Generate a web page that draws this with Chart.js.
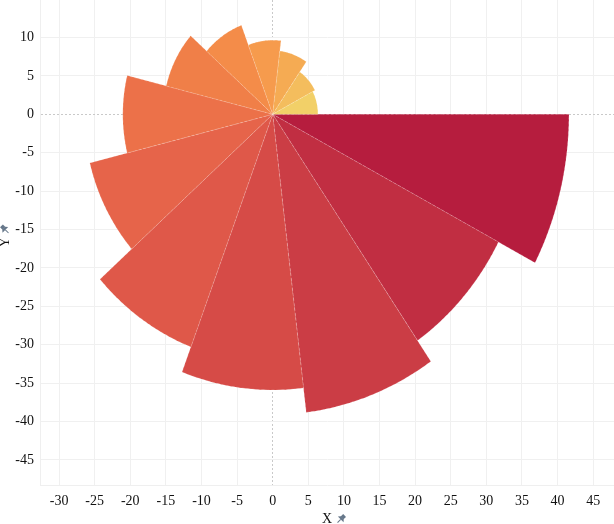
<!DOCTYPE html>
<html>
<head>
<meta charset="utf-8">
<script src="https://cdn.jsdelivr.net/npm/chart.js@4.4.0/dist/chart.umd.min.js"></script>
<style>
html,body{margin:0;padding:0;background:#fff;}
#wrap{width:614px;height:524px;}
</style>
</head>
<body>
<div id="wrap"><canvas id="c" width="614" height="524"></canvas></div>
<script>
// ---- data ----
const categories = ['1','2','3','4','5','6','7','8','9','10','11','12','13'];
const radii = [6.35, 6.7, 8.3, 9.65, 12.4, 15.4, 21.05, 26.45, 32.4, 35.9, 39.1, 35.8, 41.6];
const colors = ['#F2D068','#F4BD5D','#F5AB53','#F69B4D','#F48C49','#F07F48','#EC7149','#E6644A','#DF5849','#D64B47','#CB3D45','#C12E42','#B61D3E'];
const xTicks = [-30,-25,-20,-15,-10,-5,0,5,10,15,20,25,30,35,40,45];
const yTicks = [-45,-40,-35,-30,-25,-20,-15,-10,-5,0,5,10];
const xRange = [-32.68, 47.93];
const yRange = [-48.27, 14.88];
const xTitle = 'X';
const yTitle = 'Y';

// build wedge polygons (angular sectors) from the radii
const step = 360 / categories.length;
const ARC_STEPS = 48;
const datasets = categories.map((cat, i) => {
  const a0 = i * step, a1 = (i + 1) * step;
  const pts = [{x: 0, y: 0}];
  for (let k = 0; k <= ARC_STEPS; k++) {
    const a = (a0 + (a1 - a0) * k / ARC_STEPS) * Math.PI / 180;
    pts.push({x: radii[i] * Math.cos(a), y: radii[i] * Math.sin(a)});
  }
  pts.push({x: 0, y: 0});
  return {
    label: cat,
    data: pts,
    showLine: true,
    fill: 'shape',
    backgroundColor: colors[i],
    borderColor: 'rgba(255,255,255,0.35)',
    borderWidth: 0.6,
    borderDash: [3, 2],
    pointRadius: 0,
    pointHoverRadius: 0,
    tension: 0
  };
});

const FONT = '"Liberation Serif", "Times New Roman", serif';

function drawPin(ctx, x, y, rot) {
  ctx.save();
  ctx.translate(x, y);
  ctx.rotate(rot);
  ctx.fillStyle = '#66778a';
  ctx.strokeStyle = '#66778a';
  ctx.beginPath();
  ctx.rect(-2, -5, 4, 3.5);
  ctx.fill();
  ctx.beginPath();
  ctx.moveTo(-4, 0.5); ctx.lineTo(4, 0.5); ctx.lineTo(2, -1.8); ctx.lineTo(-2, -1.8); ctx.closePath();
  ctx.fill();
  ctx.lineWidth = 1;
  ctx.beginPath();
  ctx.moveTo(0, 0.5); ctx.lineTo(0, 5);
  ctx.stroke();
  ctx.restore();
}

const pinPlugin = {
  id: 'pins',
  afterDraw(chart) {
    const ctx = chart.ctx;
    const ca = chart.chartArea;
    ctx.save();
    ctx.font = '14px ' + FONT;
    const wx = ctx.measureText(xTitle).width;
    const cx = (ca.left + ca.right) / 2;
    drawPin(ctx, cx + wx / 2 + 9, 519, Math.PI / 4);
    const wy = ctx.measureText(yTitle).width;
    const cy = (ca.top + ca.bottom) / 2;
    drawPin(ctx, 5, cy - wy / 2 - 8, -Math.PI / 4);
    ctx.restore();
  }
};

const gridColor = c => (c.tick && c.tick.value === 0) ? '#c9c9c9' : '#f0f0f0';
const gridDash = c => (c.tick && c.tick.value === 0) ? [2, 2] : [];

new Chart(document.getElementById('c'), {
  type: 'scatter',
  data: { datasets },
  options: {
    responsive: false,
    animation: false,
    layout: { padding: 0 },
    plugins: { legend: { display: false }, tooltip: { enabled: false } },
    scales: {
      x: {
        type: 'linear',
        min: xRange[0], max: xRange[1],
        afterBuildTicks: ax => { ax.ticks = xTicks.map(v => ({value: v})); },
        afterFit: ax => { ax.height = 39; ax.paddingLeft = 0; ax.paddingRight = 0; },
        grid: { color: gridColor, drawTicks: false, lineWidth: 1 },
        border: { color: '#efefef', dash: gridDash },
        ticks: { color: '#111', font: { family: FONT, size: 14 }, padding: 8, maxRotation: 0, autoSkip: false },
        title: { display: true, text: xTitle, color: '#111', font: { family: FONT, size: 14, lineHeight: 0.7 }, padding: { top: 0, bottom: 0 } }
      },
      y: {
        type: 'linear',
        min: yRange[0], max: yRange[1],
        afterBuildTicks: ax => { ax.ticks = yTicks.map(v => ({value: v})); },
        afterFit: ax => { ax.width = 40; ax.paddingTop = 0; ax.paddingBottom = 0; },
        grid: { color: gridColor, drawTicks: false, lineWidth: 1 },
        border: { color: '#efefef', dash: gridDash },
        ticks: { color: '#111', font: { family: FONT, size: 14 }, padding: 6, autoSkip: false },
        title: { display: true, text: yTitle, color: '#111', font: { family: FONT, size: 14, lineHeight: 0.7 }, padding: { top: 0, bottom: 0 } }
      }
    }
  },
  plugins: [pinPlugin]
});
</script>
</body>
</html>
